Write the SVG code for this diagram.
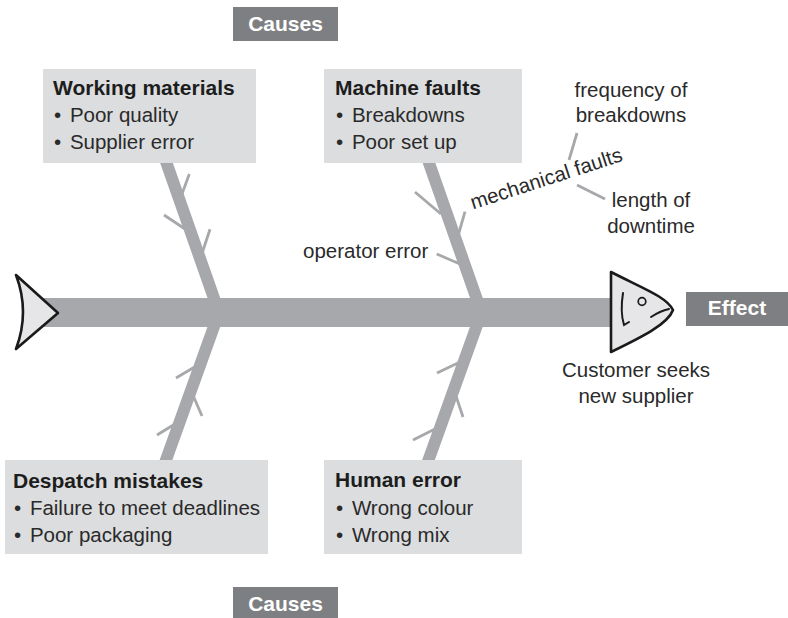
<svg xmlns="http://www.w3.org/2000/svg" width="788" height="618" viewBox="0 0 788 618">
  <style>
    .txt { font-family: "Liberation Sans", Arial, sans-serif; font-size: 20.5px; fill: #2a2a2a; }
    .title { font-weight: bold; font-size: 21px; fill: #1d1d1d; }
    .mid { text-anchor: middle; }
    .box { fill: #dcdddf; }
    .tag { fill: #7e7f82; }
    .tagtxt { font-family: "Liberation Sans", Arial, sans-serif; font-size: 21px; font-weight: bold; fill: #ffffff; text-anchor: middle; }
    .bone { stroke: #a7a8ab; stroke-width: 12; fill: none; }
    .rib { stroke: #a7a8ab; stroke-width: 2.8; fill: none; }
    .outline { fill: #e6e6e8; stroke: #1a1a1a; stroke-width: 2.6; stroke-linejoin: round; }
    .ink { fill: none; stroke: #1a1a1a; stroke-width: 2; stroke-linecap: round; }
  </style>

  <!-- skeleton: spine, bones, ribs -->
  <g id="connectors">
    <g id="ribs">
      <line class="rib" x1="189.3" y1="174" x2="182" y2="194"/>
      <line class="rib" x1="164" y1="215" x2="185" y2="229"/>
      <line class="rib" x1="210" y1="229.3" x2="202.5" y2="252"/>

      <line class="rib" x1="415" y1="192" x2="441" y2="214"/>
      <line class="rib" x1="465" y1="211.7" x2="458" y2="236"/>
      <line class="rib" x1="436.7" y1="254" x2="460" y2="264"/>

      <line class="rib" x1="176" y1="378" x2="198" y2="365"/>
      <line class="rib" x1="192" y1="393" x2="202" y2="416"/>
      <line class="rib" x1="157" y1="435" x2="175" y2="424"/>

      <line class="rib" x1="437" y1="373" x2="460" y2="362"/>
      <line class="rib" x1="455" y1="393" x2="463" y2="417"/>
      <line class="rib" x1="413" y1="440" x2="435" y2="429"/>

      <line class="rib" x1="569" y1="160" x2="577" y2="133"/>
      <line class="rib" x1="577" y1="185" x2="605" y2="199"/>
    </g>
    <rect id="spine" x="40" y="298" width="575" height="29" fill="#a7a8ab"/>
    <polyline class="bone" points="163.7,155 219,312.5 162.4,470"/>
    <polyline class="bone" points="426.2,155 481.5,312.5 424.9,470"/>
  </g>

  <g id="causes-top">
    <rect class="tag" x="233" y="7" width="105" height="34"/>
    <text class="tagtxt" x="285.5" y="31">Causes</text>
  </g>

  <g id="working-materials">
    <rect class="box" x="43" y="69" width="213" height="94"/>
    <text class="txt title" x="53" y="95">Working materials</text>
    <text class="txt" x="54" y="122">•<tspan dx="3"> Poor quality</tspan></text>
    <text class="txt" x="54" y="149">•<tspan dx="3"> Supplier error</tspan></text>
  </g>

  <g id="machine-faults">
    <rect class="box" x="324" y="69" width="198" height="94"/>
    <text class="txt title" x="335" y="95">Machine faults</text>
    <text class="txt" x="336" y="122">•<tspan dx="3"> Breakdowns</tspan></text>
    <text class="txt" x="336" y="149">•<tspan dx="3"> Poor set up</tspan></text>
  </g>

  <g id="despatch-mistakes">
    <rect class="box" x="5" y="460" width="263" height="94"/>
    <text class="txt title" x="13" y="488">Despatch mistakes</text>
    <text class="txt" x="14" y="515">•<tspan dx="3"> Failure to meet deadlines</tspan></text>
    <text class="txt" x="14" y="542">•<tspan dx="3"> Poor packaging</tspan></text>
  </g>

  <g id="human-error">
    <rect class="box" x="324" y="460" width="198" height="94"/>
    <text class="txt title" x="335" y="487">Human error</text>
    <text class="txt" x="336" y="515">•<tspan dx="3"> Wrong colour</tspan></text>
    <text class="txt" x="336" y="542">•<tspan dx="3"> Wrong mix</tspan></text>
  </g>

  <g id="causes-bottom">
    <rect class="tag" x="233" y="587" width="105" height="34"/>
    <text class="tagtxt" x="285.5" y="611">Causes</text>
  </g>

  <g id="sub-causes">
    <text class="txt" x="303" y="258">operator error</text>
    <text class="txt" transform="translate(473,209.5) rotate(-18)">mechanical faults</text>
    <text class="txt mid" x="631" y="97">frequency of</text>
    <text class="txt mid" x="631" y="122">breakdowns</text>
    <text class="txt mid" x="651" y="207">length of</text>
    <text class="txt mid" x="651" y="233">downtime</text>
  </g>

  <g id="tail">
    <path class="outline" d="M16,275 L58,313 L16,349 Q30,312 16,275 Z"/>
  </g>

  <g id="head">
    <path class="outline" d="M611,272 C642,288 667,297 673,310 C668,324 642,337 611,352 Z"/>
    <circle cx="642" cy="301.5" r="3.8" fill="none" stroke="#1a1a1a" stroke-width="1.7"/>
    <path class="ink" d="M623,293 Q620,312 624,325 L629,322"/>
    <path class="ink" d="M651,317 Q660,311 669,309"/>
    <text class="txt mid" x="636" y="377">Customer seeks</text>
    <text class="txt mid" x="636" y="403">new supplier</text>
  </g>

  <g id="effect">
    <rect class="tag" x="686" y="292" width="102" height="34"/>
    <text class="tagtxt" x="737" y="315">Effect</text>
  </g>
</svg>
